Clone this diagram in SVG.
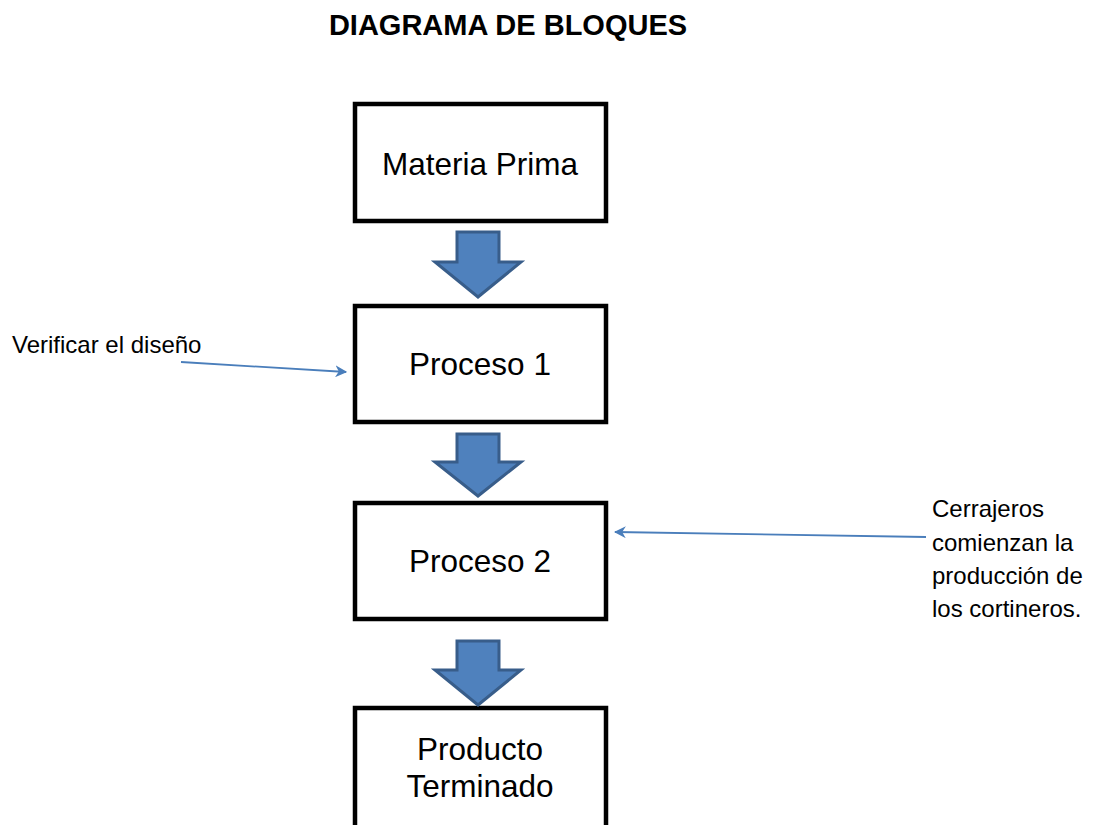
<svg xmlns="http://www.w3.org/2000/svg" width="1102" height="825" viewBox="0 0 1102 825">
<style>
.box{fill:#fff;stroke:#000;stroke-width:4.5}
.lbl{font-family:"Liberation Sans",Arial,sans-serif;font-size:31.5px;fill:#000;text-anchor:middle}
.note{font-family:"Liberation Sans",Arial,sans-serif;font-size:24px;fill:#000}
.barrow{fill:#4F81BD;stroke:#385D8A;stroke-width:3;stroke-linejoin:miter}
.conn{stroke:#4A7EBB;stroke-width:1.8;fill:none}
</style>
<defs>
<marker id="ah" viewBox="0 0 10 10" refX="9" refY="5" markerWidth="12" markerHeight="12" markerUnits="userSpaceOnUse" orient="auto">
<path d="M0,0 L10,5 L0,10 L3,5 z" fill="#4A7EBB"/>
</marker>
</defs>
<rect width="1102" height="825" fill="#fff"/>
<text x="508" y="35" font-family="Liberation Sans,Arial,sans-serif" font-size="29" font-weight="bold" text-anchor="middle">DIAGRAMA DE BLOQUES</text>
<g id="n1"><rect class="box" x="355" y="104" width="251" height="117"/><text class="lbl" x="480" y="175">Materia Prima</text></g>
<g id="n2"><rect class="box" x="355" y="306" width="251" height="116"/><text class="lbl" x="480" y="375">Proceso 1</text></g>
<g id="n3"><rect class="box" x="355" y="503" width="251" height="116"/><text class="lbl" x="480" y="572">Proceso 2</text></g>
<g id="n4"><rect class="box" x="355" y="708" width="251" height="130"/><text class="lbl" x="480" y="760">Producto</text><text class="lbl" x="480" y="797">Terminado</text></g>
<g id="connectors">
<path class="barrow" d="M457,232 H499 V262 H521 L478,297 L435,262 H457 Z"/>
<path class="barrow" d="M457,434 H499 V462 H521 L478,496 L435,462 H457 Z"/>
<path class="barrow" d="M457,641 H499 V670 H521 L478,705 L435,670 H457 Z"/>
<line class="conn" x1="181" y1="362" x2="346" y2="372" marker-end="url(#ah)"/>
<line class="conn" x1="926" y1="537" x2="615" y2="532" marker-end="url(#ah)"/>
</g>
<text class="note" x="12" y="353">Verificar el diseño</text>
<text class="note" x="932" y="517">Cerrajeros</text>
<text class="note" x="932" y="551">comienzan la</text>
<text class="note" x="932" y="584">producción de</text>
<text class="note" x="932" y="617">los cortineros.</text>
</svg>
